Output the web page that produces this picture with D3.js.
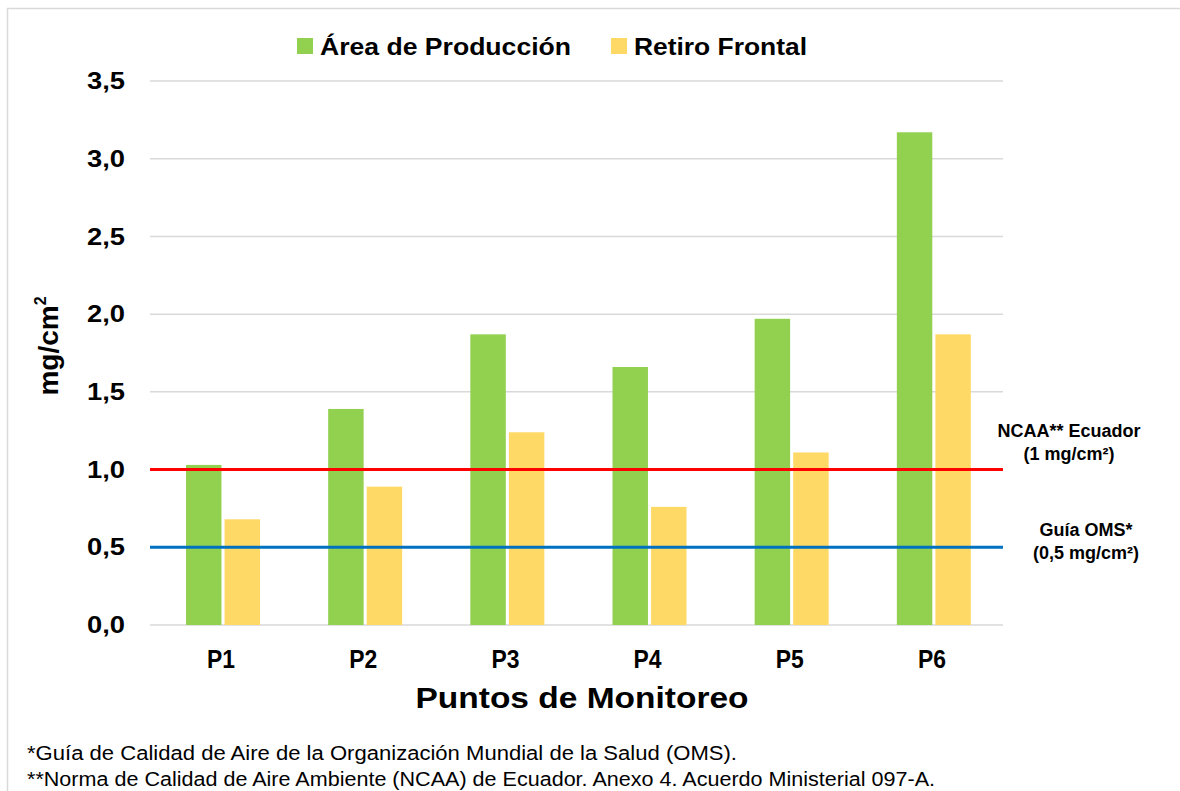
<!DOCTYPE html>
<html lang="es">
<head>
<meta charset="utf-8">
<title>Puntos de Monitoreo</title>
<script src="https://d3js.org/d3.v7.min.js"></script>
<style>
  body { margin: 0; background: #fff; }
  text { font-family: "Liberation Sans", Arial, sans-serif; fill: #000; }
</style>
</head>
<body>
<div id="chart"></div>
<script>
// data
var puntos = ["P1", "P2", "P3", "P4", "P5", "P6"];
var series = ["Área de Producción", "Retiro Frontal"];
var areaProduccion = [1.03, 1.39, 1.87, 1.66, 1.97, 3.17];
var retiroFrontal = [0.68, 0.89, 1.24, 0.76, 1.11, 1.87];
var yTicks = [0, 0.5, 1, 1.5, 2, 2.5, 3, 3.5];
var limites = [
  { nombre: "NCAA** Ecuador", valor: "(1 mg/cm²)", y: 1.0 },
  { nombre: "Guía OMS*", valor: "(0,5 mg/cm²)", y: 0.5 }
];
var notas = [
  "*Guía de Calidad de Aire de la Organización Mundial de la Salud (OMS).",
  "**Norma de Calidad de Aire Ambiente (NCAA) de Ecuador. Anexo 4. Acuerdo Ministerial 097-A."
];

var W = 1180, H = 791;
var colores = ["#92d050", "#ffd966"];
var colorLinea = ["#ff0000", "#0070c0"];

var svg = d3.select("#chart").append("svg")
  .attr("width", W).attr("height", H);

// outer border
svg.append("rect")
  .attr("x", 7.5).attr("y", 8.5)
  .attr("width", W + 10).attr("height", H + 10)
  .attr("fill", "none").attr("stroke", "#d9d9d9").attr("stroke-width", 1.5);

var x = d3.scaleBand().domain(puntos).range([150, 1003]);
var xs = d3.scaleBand().domain(series).range([36, 110]).paddingInner(0.08);
var y = d3.scaleLinear().domain([0, 3.5]).range([625, 81]);

// gridlines
svg.append("g").selectAll("line")
  .data(yTicks)
  .enter().append("line")
  .attr("x1", 150).attr("x2", 1003)
  .attr("y1", function(d) { return y(d); })
  .attr("y2", function(d) { return y(d); })
  .attr("stroke", "#d9d9d9").attr("stroke-width", 1.5);

// y axis labels
var fmt = function(d) { return d3.format(".1f")(d).replace(".", ","); };
var yAxis = svg.append("g")
  .attr("transform", "translate(125,0)")
  .call(d3.axisLeft(y).tickValues(yTicks).tickFormat(fmt).tickSize(0).tickPadding(0));
yAxis.select(".domain").remove();
yAxis.selectAll("text")
  .attr("font-size", 24).attr("font-weight", "bold")
  .attr("textLength", 38).attr("lengthAdjust", "spacingAndGlyphs")
  .attr("fill", "#000");

// bars
var valores = [areaProduccion, retiroFrontal];
series.forEach(function(s, si) {
  svg.append("g").selectAll("rect")
    .data(valores[si])
    .enter().append("rect")
    .attr("x", function(d, i) { return x(puntos[i]) + xs(s); })
    .attr("width", xs.bandwidth())
    .attr("y", function(d) { return y(d); })
    .attr("height", function(d) { return y(0) - y(d); })
    .attr("fill", colores[si]);
});

// reference lines
limites.forEach(function(l, i) {
  svg.append("line")
    .attr("x1", 150).attr("x2", 1003)
    .attr("y1", y(l.y)).attr("y2", y(l.y))
    .attr("stroke", colorLinea[i]).attr("stroke-width", 3);
});
var cx = [1069, 1086];
var cy = [437, 536];
limites.forEach(function(l, i) {
  var t = svg.append("text")
    .attr("text-anchor", "middle")
    .attr("font-size", 18).attr("font-weight", "bold")
    .attr("fill", "#1a1a1a");
  t.append("tspan").attr("x", cx[i]).attr("y", cy[i]).text(l.nombre);
  t.append("tspan").attr("x", cx[i]).attr("y", cy[i] + 23).text(l.valor);
});

// x axis labels
var xAxis = svg.append("g")
  .attr("transform", "translate(0,650)")
  .call(d3.axisBottom(x).tickSize(0).tickPadding(0));
xAxis.select(".domain").remove();
xAxis.selectAll("text")
  .attr("font-size", 26).attr("font-weight", "bold")
  .attr("textLength", 28).attr("lengthAdjust", "spacingAndGlyphs")
  .attr("fill", "#000");

// axis titles
svg.append("text")
  .attr("x", 582).attr("y", 708)
  .attr("text-anchor", "middle")
  .attr("font-size", 29).attr("font-weight", "bold")
  .attr("textLength", 333).attr("lengthAdjust", "spacingAndGlyphs")
  .text("Puntos de Monitoreo");

var yt = svg.append("text")
  .attr("transform", "translate(58,346) rotate(-90)")
  .attr("text-anchor", "middle")
  .attr("font-size", 28).attr("font-weight", "bold");
yt.append("tspan").text("mg/cm");
yt.append("tspan").attr("font-size", 16).attr("dy", -12).text("2");

// legend
var legX = [297, 611];
var legW = [251, 173];
series.forEach(function(s, i) {
  svg.append("rect")
    .attr("x", legX[i]).attr("y", 38)
    .attr("width", 16).attr("height", 16)
    .attr("fill", colores[i]);
  svg.append("text")
    .attr("x", legX[i] + 23).attr("y", 55)
    .attr("font-size", 23).attr("font-weight", "bold")
    .attr("textLength", legW[i]).attr("lengthAdjust", "spacingAndGlyphs")
    .text(s);
});

// footnotes
var notaW = [710, 908];
svg.append("g").selectAll("text")
  .data(notas)
  .enter().append("text")
  .attr("x", 27)
  .attr("y", function(d, i) { return 760 + i * 26; })
  .attr("font-size", 20)
  .attr("textLength", function(d, i) { return notaW[i]; })
  .attr("lengthAdjust", "spacingAndGlyphs")
  .text(function(d) { return d; });
</script>
</body>
</html>
